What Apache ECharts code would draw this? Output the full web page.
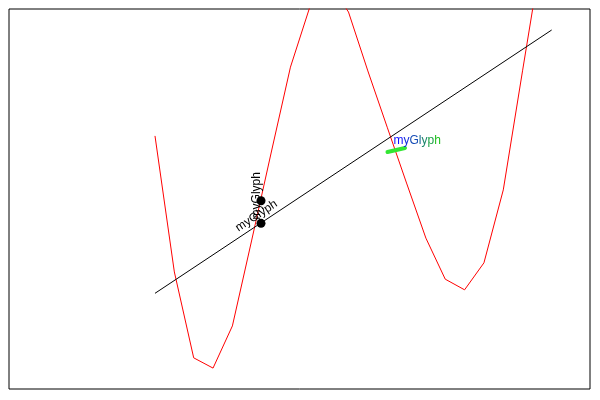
<!DOCTYPE html>
<html>
<head>
<meta charset="utf-8">
<script src="https://cdn.jsdelivr.net/npm/echarts@6/dist/echarts.min.js"></script>
<style>html,body{margin:0;padding:0;background:#fff}#c{width:600px;height:400px}</style>
</head>
<body>
<div id="c"></div>
<script>
// Red wavy series: sample index -> value
const redX = [0,1,2,3,4,5,6,7,8,9,10,11,12,13,14,15,16,17,18,19,20];
const redY = [6.66,3.08,0.82,0.55,1.66,3.92,6.21,8.47,10.05,10.68,9.92,8.37,6.89,5.42,3.97,2.89,2.61,3.32,5.24,8.39,11.5];
// Black straight line
const lineX = [0, 20.5];
const lineY = [2.518, 9.447];
// Glyph dots
const dotX = [5.478, 5.478];
const dotY = [4.955, 4.36];
// Green glyph stroke
const greenX = [12.016, 12.92];
const greenY = [6.237, 6.342];
// Horizontal glyph label anchor
const textX = [12.274];
const textY = [6.54];
const glyphText = 'myGlyph';

const chart = echarts.init(document.getElementById('c'), null, {renderer:'canvas'});
const hidden = {show:false};
const font = 'Liberation Sans, Arial, sans-serif';

// per-letter gradient from blue to green
const c0 = [16,16,255], c1 = [32,192,32];
const rich = {};
let fmt = '';
const chars = glyphText.split('');
chars.forEach((ch, i) => {
  const t = i / (chars.length - 1);
  const c = c0.map((v, k) => Math.round(v + (c1[k] - v) * t));
  rich['c' + i] = {color: 'rgb(' + c.join(',') + ')', fontSize: 12, fontFamily: font};
  fmt += '{c' + i + '|' + ch + '}';
});

chart.setOption({
  animation: false,
  grid: {left:9, top:9, right:10, bottom:11, show:true, borderColor:'#000', borderWidth:1, backgroundColor:'transparent'},
  xAxis: {type:'value', min:-7.545, max:22.481, axisLine:hidden, axisTick:hidden, axisLabel:hidden, splitLine:hidden},
  yAxis: {type:'value', min:0, max:10, axisLine:hidden, axisTick:hidden, axisLabel:hidden, splitLine:hidden},
  series: [
    {type:'line', data: redX.map((x,i)=>[x, redY[i]]), showSymbol:false, symbol:'none', clip:true,
     lineStyle:{color:'#ff0000', width:1}},
    {type:'line', data: lineX.map((x,i)=>[x, lineY[i]]), showSymbol:false, symbol:'none',
     lineStyle:{color:'#000', width:1}},
    {type:'line', data: greenX.map((x,i)=>[x, greenY[i]]), showSymbol:false, symbol:'none',
     lineStyle:{color:'#33e633', width:4, cap:'round'}},
    {type:'scatter', symbolSize:9, itemStyle:{color:'#000', opacity:1}, z:5,
     data: [
       {value:[dotX[0], dotY[0]], label:{show:true, formatter:glyphText, position:'inside', rotate:90, offset:[5,-4], color:'#000', fontSize:12, fontFamily:font}},
       {value:[dotX[1], dotY[1]], label:{show:true, formatter:glyphText, position:'inside', rotate:33.6, offset:[0.3,-8.6], color:'#000', fontSize:12, fontFamily:font}}
     ]},
    {type:'scatter', symbolSize:0, z:6, itemStyle:{opacity:1},
     data: [{value:[textX[0], textY[0]], label:{show:true, formatter:fmt, rich:rich, position:'right', distance:0, offset:[1,0], fontSize:12, fontFamily:font}}]}
  ]
});
</script>
</body>
</html>
